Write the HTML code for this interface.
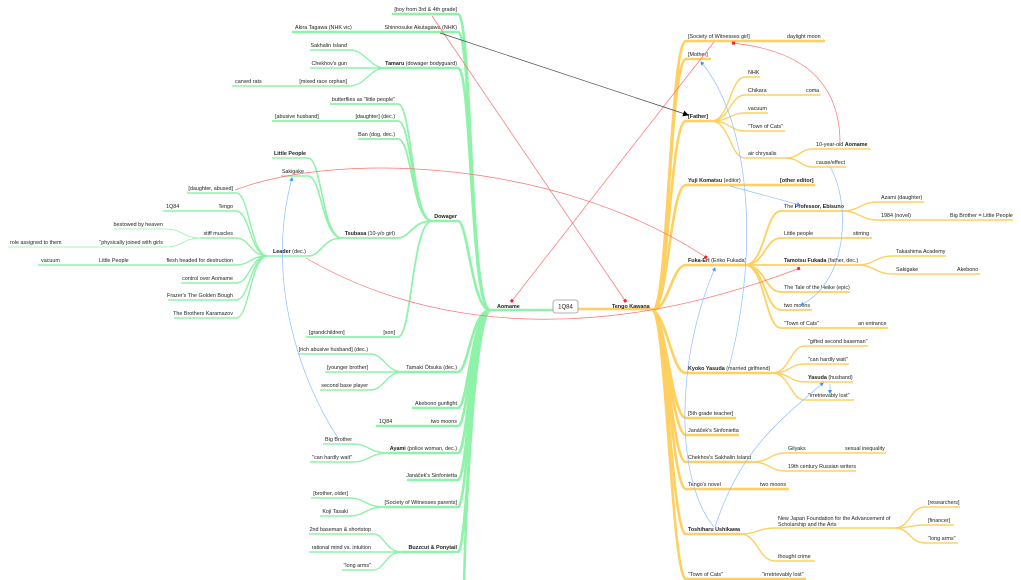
<!DOCTYPE html>
<html><head><meta charset="utf-8"><style>
html,body{margin:0;padding:0;background:#fff;width:1021px;height:580px;overflow:hidden}
svg{display:block}
text{font-family:"Liberation Sans",sans-serif;font-size:5.4px;fill:#222}
.b{font-weight:bold}
.g{fill:none;stroke:#8ff2a9;stroke-width:1.4}
.gt{fill:none;stroke:#8ff2a9;stroke-width:2.6}
.o{fill:none;stroke:#ffd060;stroke-width:1.4}
.ot{fill:none;stroke:#ffd060;stroke-width:2.6}
.r{fill:none;stroke:#ff7070;stroke-width:0.7}
.bl{fill:none;stroke:#8cc0ff;stroke-width:0.7}
</style></head><body>
<svg width="1021" height="580" viewBox="0 0 1021 580" xmlns="http://www.w3.org/2000/svg">
<defs>
<marker id="ar" markerWidth="4" markerHeight="4" refX="3" refY="2" orient="auto" markerUnits="userSpaceOnUse"><rect x="0" y="0.5" width="3" height="3" fill="#ff2020"/></marker>
<marker id="ab" markerWidth="4" markerHeight="4" refX="3" refY="2" orient="auto" markerUnits="userSpaceOnUse"><path d="M0,0 L4,2 L0,4z" fill="#3a90ff"/></marker>
<marker id="ak" markerWidth="6" markerHeight="6" refX="5" refY="3" orient="auto" markerUnits="userSpaceOnUse"><path d="M0,0 L6,3 L0,6z" fill="#000"/></marker>
</defs>

<!-- center -->
<path class="gt" d="M490 310 H553"/>
<path class="ot" d="M578 309 H653"/>
<rect x="553" y="300" width="25" height="13" rx="2.5" fill="#fff" stroke="#9a9a9a" stroke-width="0.8"/>
<text x="565.5" y="308.5" text-anchor="middle" style="font-size:6px">1Q84</text>
<text x="497" y="308" class="b">Aomame</text>
<text x="612" y="308" class="b">Tengo Kawana</text>

<!-- GREEN: Aomame children -->
<g class="gt">
<path d="M490 310 C470 310,472 14,458 14 H392"/>
<path d="M490 310 C470 310,472 32,458 32 H292"/>
<path d="M490 310 C470 310,472 68,458 68 H385"/>
<path d="M490 310 C472 310,468 221,458 221 H432"/>
<path d="M490 310 C472 310,468 372,458 372 H404"/>
<path d="M490 310 C472 310,468 408,458 408 H412"/>
<path d="M490 310 C472 310,468 426,458 426 H376"/>
<path d="M490 310 C472 310,468 453,458 453 H388"/>
<path d="M490 310 C472 310,468 480,458 480 H407"/>
<path d="M490 310 C472 310,468 507,458 507 H385"/>
<path d="M490 310 C472 310,468 552,458 552 H402"/>
<path d="M490 310 C475 320,466 500,464 585"/>
</g>
<text x="457" y="11" text-anchor="end">[boy from 3rd &amp; 4th grade]</text>
<text x="457" y="29" text-anchor="end">Shinnosuke Akutagawa (NHK)</text>
<text x="295" y="29">Akira Tagawa (NHK vic)</text>
<text x="457" y="65" text-anchor="end"><tspan class="b">Tamaru</tspan> (dowager bodyguard)</text>
<text x="457" y="218" text-anchor="end" class="b">Dowager</text>
<text x="457" y="369" text-anchor="end">Tamaki Ōtsuka (dec.)</text>
<text x="457" y="405" text-anchor="end">Akebono gunfight</text>
<text x="457" y="423" text-anchor="end">two moons</text>
<text x="379" y="423">1Q84</text>
<text x="457" y="450" text-anchor="end"><tspan class="b">Ayami</tspan> (police woman, dec.)</text>
<text x="457" y="477" text-anchor="end">Janáček's Sinfonietta</text>
<text x="457" y="504" text-anchor="end">[Society of Witnesses parents]</text>
<text x="457" y="549" text-anchor="end" class="b">Buzzcut &amp; Ponytail</text>

<!-- Tamaru -->
<g class="g">
<path d="M385 68 C370 68,365 50,350 50 H310"/>
<path d="M385 68 H310"/>
<path d="M385 68 C370 68,365 86,350 86 H232"/>
</g>
<text x="347" y="47" text-anchor="end">Sakhalin Island</text>
<text x="347" y="65" text-anchor="end">Chekhov's gun</text>
<text x="347" y="83" text-anchor="end">[mixed race orphan]</text>
<text x="235" y="83">carved rats</text>

<!-- Dowager -->
<g class="g" style="stroke-width:1.8">
<path d="M432 221 C412 221,412 104,398 104 H330"/>
<path d="M432 221 C412 221,412 121,398 121 H272"/>
<path d="M432 221 C412 221,412 139,398 139 H358"/>
<path d="M432 221 C412 221,410 238,398 238 H342"/>
<path d="M432 221 C412 221,412 337,398 337 H306"/>
</g>
<text x="395" y="101" text-anchor="end">butterflies as "little people"</text>
<text x="395" y="118" text-anchor="end">[daughter] (dec.)</text>
<text x="275" y="118">[abusive husband]</text>
<text x="395" y="136" text-anchor="end">Ban (dog, dec.)</text>
<text x="395" y="235" text-anchor="end"><tspan class="b">Tsubasa</tspan> (10-y/o girl)</text>
<text x="395" y="334" text-anchor="end">[son]</text>
<text x="309" y="334">[grandchildren]</text>

<!-- Tsubasa -->
<g class="g" style="stroke-width:1.6">
<path d="M342 238 C322 238,322 158,308 158 H272"/>
<path d="M342 238 C322 238,322 176,308 176 H281"/>
<path d="M342 238 C322 238,322 256,308 256 H268"/>
</g>
<text x="274" y="155" class="b">Little People</text>
<text x="304" y="173" text-anchor="end">Sakigake</text>
<text x="273" y="253"><tspan class="b">Leader</tspan> (dec.)</text>

<!-- Leader -->
<g class="g">
<path d="M268 256 C250 256,250 193,236 193 H187"/>
<path d="M268 256 C250 256,250 211,236 211 H163"/>
<path d="M268 256 C250 256,250 238,236 238 H200"/>
<path d="M268 256 C250 256,250 265,236 265 H38"/>
<path d="M268 256 C250 256,250 283,236 283 H181"/>
<path d="M268 256 C250 256,250 300,236 300 H168"/>
<path d="M268 256 C250 256,250 318,236 318 H174"/>
<path d="M200 238 C184 238,182 229,166 229 H114" style="stroke-width:0.8"/>
<path d="M200 238 C184 238,182 247,166 247 H8" style="stroke-width:0.8"/>
</g>
<text x="233" y="190" text-anchor="end">[daughter, abused]</text>
<text x="233" y="208" text-anchor="end">Tengo</text>
<text x="166" y="208">1Q84</text>
<text x="233" y="235" text-anchor="end">stiff muscles</text>
<text x="163" y="226" text-anchor="end">bestowed by heaven</text>
<text x="163" y="244" text-anchor="end">"physically joined with girls</text>
<text x="10" y="244">role assigned to them</text>
<text x="233" y="262" text-anchor="end">flesh headed for destruction</text>
<text x="99" y="262">Little People</text>
<text x="41" y="262">vacuum</text>
<text x="233" y="280" text-anchor="end">control over Aomame</text>
<text x="233" y="297" text-anchor="end">Frazer's The Golden Bough</text>
<text x="233" y="315" text-anchor="end">The Brothers Karamazov</text>

<!-- Tamaki -->
<g class="g">
<path d="M404 372 C385 372,385 354,370 354 H298"/>
<path d="M404 372 H325"/>
<path d="M404 372 C385 372,385 390,370 390 H320"/>
<path d="M388 453 C370 453,368 444,354 444 H323"/>
<path d="M388 453 C370 453,368 462,354 462 H310"/>
<path d="M385 507 C365 507,365 498,350 498 H311"/>
<path d="M385 507 C365 507,365 516,350 516 H320"/>
<path d="M402 552 C385 552,385 534,373 534 H309"/>
<path d="M402 552 H309"/>
<path d="M402 552 C385 552,385 570,373 570 H342"/>
</g>
<text x="368" y="351" text-anchor="end">[rich abusive husband] (dec.)</text>
<text x="368" y="369" text-anchor="end">[younger brother]</text>
<text x="368" y="387" text-anchor="end">second base player</text>
<text x="352" y="441" text-anchor="end">Big Brother</text>
<text x="352" y="459" text-anchor="end">"can hardly wait"</text>
<text x="348" y="495" text-anchor="end">[brother, older]</text>
<text x="348" y="513" text-anchor="end">Koji Tasaki</text>
<text x="371" y="531" text-anchor="end">2nd baseman &amp; shortstop</text>
<text x="371" y="549" text-anchor="end">rational mind vs. intuition</text>
<text x="371" y="567" text-anchor="end">"long arms"</text>

<!-- ORANGE: Tengo children -->
<g class="ot">
<path d="M653 310 C668 310,670 41,686 41 H825"/>
<path d="M653 310 C668 310,670 59,686 59 H711"/>
<path d="M653 310 C668 310,670 121,686 121 H711"/>
<path d="M653 310 C668 310,670 185,686 185 H815"/>
<path d="M653 310 C668 310,672 265,686 265 H745"/>
<path d="M653 310 C668 320,672 373,686 373 H772"/>
<path d="M653 310 C666 320,672 418,686 418 H736"/>
<path d="M653 310 C666 320,672 435,686 435 H739"/>
<path d="M653 310 C666 320,672 462,686 462 H752"/>
<path d="M653 310 C666 320,672 489,686 489 H789"/>
<path d="M653 310 C666 320,672 534,686 534 H740"/>
<path d="M653 310 C666 320,672 579,686 579 H806"/>
</g>
<text x="688" y="38">[Society of Witnesses girl]</text>
<text x="787" y="38">daylight moon</text>
<text x="688" y="56">[Mother]</text>
<text x="688" y="118" class="b">[Father]</text>
<text x="688" y="182"><tspan class="b">Yuji Komatsu</tspan> (editor)</text>
<text x="780" y="182" class="b">[other editor]</text>
<text x="688" y="262"><tspan class="b">Fuka-Eri</tspan> (Eriko Fukada)</text>
<text x="688" y="370"><tspan class="b">Kyoko Yasuda</tspan> (married girlfriend)</text>
<text x="688" y="415">[5th grade teacher]</text>
<text x="688" y="432">Janáček's Sinfonietta</text>
<text x="688" y="459">Chekhov's Sakhalin Island</text>
<text x="688" y="486">Tengo's novel</text>
<text x="760" y="486">two moons</text>
<text x="688" y="531" class="b">Toshiharu Ushikawa</text>
<text x="688" y="576">"Town of Cats"</text>
<text x="762" y="576">"irretrievably lost"</text>

<!-- Father -->
<g class="o">
<path d="M711 121 C730 121,730 77,745 77 H760"/>
<path d="M711 121 C730 121,730 95,745 95 H821"/>
<path d="M711 121 C730 121,730 113,745 113 H768"/>
<path d="M711 121 C730 121,730 131,745 131 H785"/>
<path d="M711 121 C730 121,730 158,745 158 H785"/>
<path d="M785 158 C800 158,800 149,813 149 H870"/>
<path d="M785 158 C800 158,800 167,813 167 H846"/>
</g>
<text x="748" y="74">NHK</text>
<text x="748" y="92">Chikara</text>
<text x="806" y="92">coma</text>
<text x="748" y="110">vacuum</text>
<text x="748" y="128">"Town of Cats"</text>
<text x="748" y="155">air chrysalis</text>
<text x="816" y="146">10-year-old <tspan class="b">Aomame</tspan></text>
<text x="816" y="164">cause/effect</text>

<!-- Fuka-Eri -->
<g class="o" style="stroke-width:1.8">
<path d="M745 265 C765 265,765 211,781 211 H842"/>
<path d="M745 265 C765 265,765 238,781 238 H872"/>
<path d="M745 265 H857"/>
<path d="M745 265 C765 265,765 292,781 292 H850"/>
<path d="M745 265 C765 265,765 310,781 310 H812"/>
<path d="M745 265 C765 265,765 328,781 328 H888"/>
</g>
<g class="o">
<path d="M842 211 C860 211,860 202,878 202 H924"/>
<path d="M842 211 C860 211,860 220,878 220 H1013"/>
<path d="M857 265 C875 265,875 256,893 256 H946"/>
<path d="M857 265 C875 265,875 274,893 274 H980"/>
</g>
<text x="784" y="208">The <tspan class="b">Professor, Ebisuno</tspan></text>
<text x="881" y="199">Azami (daughter)</text>
<text x="881" y="217">1984 (novel)</text>
<text x="950" y="217">Big Brother = Little People</text>
<text x="784" y="235">Little people</text>
<text x="853" y="235">stirring</text>
<text x="784" y="262"><tspan class="b">Tamotsu Fukada</tspan> (father, dec.)</text>
<text x="896" y="253">Takashima Academy</text>
<text x="896" y="271">Sakigake</text>
<text x="957" y="271">Akebono</text>
<text x="784" y="289">The Tale of the Heike (epic)</text>
<text x="784" y="307">two moons</text>
<text x="784" y="325">"Town of Cats"</text>
<text x="858" y="325">an entrance</text>

<!-- Kyoko etc -->
<g class="o">
<path d="M772 373 C790 373,790 346,805 346 H868"/>
<path d="M772 373 C790 373,790 364,805 364 H849"/>
<path d="M772 373 C790 373,790 382,805 382 H853"/>
<path d="M772 373 C790 373,790 400,805 400 H854"/>
<path d="M752 462 C770 462,770 453,785 453 H886"/>
<path d="M752 462 C770 462,770 471,785 471 H856"/>
<path d="M740 534 C758 534,758 528,775 528 H895"/>
<path d="M740 534 C758 534,758 561,775 561 H815"/>
<path d="M895 528 C910 528,910 507,925 507 H960"/>
<path d="M895 528 C910 528,910 525,925 525 H954"/>
<path d="M895 528 C910 528,910 543,925 543 H958"/>
</g>
<text x="808" y="343">"gifted second baseman"</text>
<text x="808" y="361">"can hardly wait"</text>
<text x="808" y="379"><tspan class="b">Yasuda</tspan> (husband)</text>
<text x="808" y="397">"irretrievably lost"</text>
<text x="788" y="450">Gilyaks</text>
<text x="845" y="450">sexual inequality</text>
<text x="788" y="468">19th century Russian writers</text>
<text x="778" y="520">New Japan Foundation for the Advancement of</text>
<text x="778" y="526">Scholarship and the Arts</text>
<text x="778" y="558">thought crime</text>
<text x="928" y="504">[researchers]</text>
<text x="928" y="522">[financer]</text>
<text x="928" y="540">"long arms"</text>

<!-- relationship connectors -->
<path d="M432 16 L626 302" class="r" marker-end="url(#ar)"/>
<path d="M714 42 L511 302" class="r" marker-end="url(#ar)"/>
<path d="M306 258 C430 330,600 345,800 268" class="r" marker-end="url(#ar)"/>
<path d="M235 190 C340 150,560 160,707 258" class="r" marker-end="url(#ar)"/>
<path d="M840 143 C840 80,800 50,732 43" class="r" marker-end="url(#ar)"/>
<path d="M440 33 L688 115" fill="none" stroke="#444" stroke-width="0.7" marker-end="url(#ak)"/>
<path d="M338 438 C300 380,265 280,292 178" class="bl" marker-end="url(#ab)"/>
<path d="M730 186 L800 205" class="bl" marker-end="url(#ab)"/>
<path d="M830 167 C850 200,850 280,801 305" class="bl" marker-end="url(#ab)"/>
<path d="M714 527 C675 480,675 360,715 268" class="bl" marker-end="url(#ab)"/>
<path d="M729 367 C760 250,750 120,701 62" class="bl" marker-end="url(#ab)"/>
<path d="M715 527 C740 450,780 420,823 383" class="bl" marker-end="url(#ab)"/>
<path d="M830 384 L830 393" class="bl" marker-end="url(#ab)"/>
</svg>
</body></html>
